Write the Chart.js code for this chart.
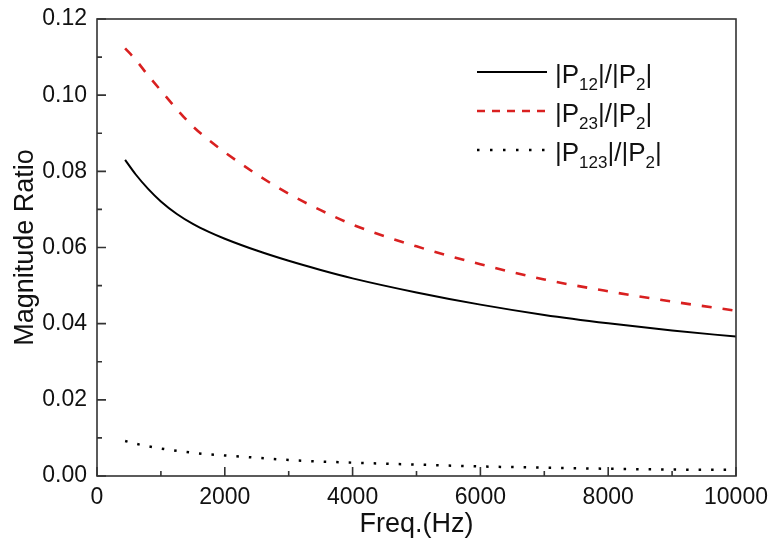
<!DOCTYPE html>
<html>
<head>
<meta charset="utf-8">
<script src="https://cdn.jsdelivr.net/npm/chart.js@4.4.1/dist/chart.umd.min.js"></script>
<style>
html, body { margin: 0; padding: 0; background: #fff; }
</style>
</head>
<body>
<canvas id="myChart" width="768" height="548"></canvas>
<script>
// frequency (Hz)
var freq = [440, 600, 800, 1000, 1250, 1500, 1750, 2000, 2500, 3000, 3500, 4000, 5000, 6000, 7000, 8000, 9000, 10000];
// |P12|/|P2|
var p12 = [0.0830, 0.0793, 0.0754, 0.0721, 0.0688, 0.0662, 0.0641, 0.0623, 0.0592, 0.0565, 0.0541, 0.0519, 0.0482, 0.0450, 0.0423, 0.0401, 0.0382, 0.0366];
// |P23|/|P2|
var p23 = [0.1123, 0.1094, 0.1052, 0.1012, 0.0963, 0.0918, 0.0882, 0.0850, 0.0792, 0.0741, 0.0698, 0.0660, 0.0603, 0.0556, 0.0516, 0.0485, 0.0458, 0.0434];
// |P123|/|P2|
var p123 = [0.0092, 0.0085, 0.0078, 0.0072, 0.0066, 0.0061, 0.0057, 0.0054, 0.0048, 0.0042, 0.0038, 0.0035, 0.0030, 0.0025, 0.0022, 0.0019, 0.0017, 0.0016];

// legend labels: normal text / subscript alternating
var legendLabels = [
    ["|P", "12", "|/|P", "2", "|"],
    ["|P", "23", "|/|P", "2", "|"],
    ["|P", "123", "|/|P", "2", "|"]
];

var FONT = "'Liberation Sans', Arial, sans-serif";

function pts(ys) {
    return freq.map(function (f, i) { return { x: f, y: ys[i] }; });
}

var frame = {
    id: 'frame',
    afterDatasetsDraw: function (chart) {
        var ctx = chart.ctx, a = chart.chartArea;
        var sx = chart.scales.x, sy = chart.scales.y;
        ctx.save();
        ctx.strokeStyle = '#333';
        ctx.lineWidth = 1.6;
        ctx.strokeRect(a.left, a.top, a.right - a.left, a.bottom - a.top);

        // inward ticks, major + minor
        ctx.beginPath();
        for (var v = 0; v <= 10000; v += 1000) {
            var px = sx.getPixelForValue(v);
            var len = v % 2000 === 0 ? 9 : 5;
            ctx.moveTo(px, a.bottom);
            ctx.lineTo(px, a.bottom - len);
        }
        for (var i = 0; i <= 12; i++) {
            var py = sy.getPixelForValue(i / 100);
            var l = i % 2 === 0 ? 9 : 5;
            ctx.moveTo(a.left, py);
            ctx.lineTo(a.left + l, py);
        }
        ctx.stroke();

        // legend
        chart.data.datasets.forEach(function (ds, k) {
            var ly = 72 + k * 39;
            ctx.beginPath();
            ctx.strokeStyle = ds.borderColor;
            ctx.lineWidth = ds.borderWidth;
            ctx.setLineDash(k === 1 ? [8, 7] : (k === 2 ? [2.5, 10.5] : []));
            ctx.moveTo(477, ly);
            ctx.lineTo(547, ly);
            ctx.stroke();
            ctx.setLineDash([]);

            ctx.fillStyle = '#111';
            ctx.textBaseline = 'alphabetic';
            ctx.textAlign = 'left';
            var tx = 555;
            legendLabels[k].forEach(function (part, j) {
                var sub = j % 2 === 1;
                ctx.font = (sub ? 17 : 26) + 'px ' + FONT;
                ctx.fillText(part, tx, ly + (sub ? 18 : 11));
                tx += ctx.measureText(part).width;
            });
        });
        ctx.restore();
    }
};

new Chart(document.getElementById("myChart"), {
    type: 'line',
    data: {
        datasets: [{
            data: pts(p12),
            borderColor: "#000000",
            borderWidth: 2,
            pointRadius: 0,
            cubicInterpolationMode: 'monotone',
            fill: false
        }, {
            data: pts(p23),
            borderColor: "#d92020",
            borderWidth: 2.6,
            borderDash: [10, 11],
            pointRadius: 0,
            cubicInterpolationMode: 'monotone',
            fill: false
        }, {
            data: pts(p123),
            borderColor: "#000000",
            borderWidth: 2.5,
            borderDash: [2.5, 10],
            pointRadius: 0,
            cubicInterpolationMode: 'monotone',
            fill: false
        }]
    },
    options: {
        responsive: false,
        animation: false,
        layout: { padding: { top: 19, right: 32, left: 0, bottom: 0 } },
        plugins: {
            legend: { display: false },
            tooltip: { enabled: false }
        },
        scales: {
            x: {
                type: 'linear',
                min: 0,
                max: 10000,
                grid: { display: false, drawTicks: false },
                border: { display: false },
                ticks: {
                    stepSize: 2000,
                    padding: 8,
                    color: '#111',
                    font: { family: FONT, size: 23 },
                    maxRotation: 0,
                    callback: function (v) { return String(v); }
                },
                title: {
                    display: true,
                    text: 'Freq.(Hz)',
                    color: '#111',
                    font: { family: FONT, size: 27 },
                    padding: { top: 0, bottom: 7 }
                },
                afterFit: function (s) {
                    s.height = 72;
                    s.paddingLeft = 0;
                    s.paddingRight = 0;
                }
            },
            y: {
                min: 0,
                max: 0.12,
                grid: { display: false, drawTicks: false },
                border: { display: false },
                ticks: {
                    stepSize: 0.02,
                    padding: 10,
                    color: '#111',
                    font: { family: FONT, size: 23 },
                    callback: function (v) { return v.toFixed(2); }
                },
                title: {
                    display: true,
                    text: 'Magnitude Ratio',
                    color: '#111',
                    font: { family: FONT, size: 27 },
                    padding: { top: 9, bottom: 0 }
                },
                afterFit: function (s) {
                    s.width = 97;
                    s.paddingTop = 0;
                    s.paddingBottom = 0;
                }
            }
        }
    },
    plugins: [frame]
});
</script>
</body>
</html>
